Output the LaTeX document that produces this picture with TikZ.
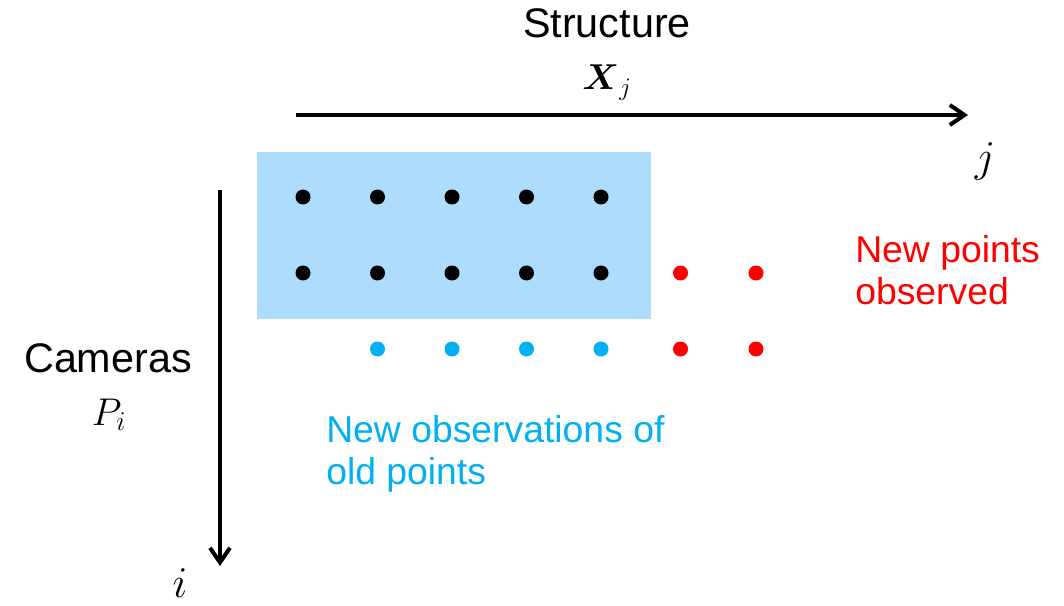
\documentclass[tikz,border=0pt]{standalone}
\usepackage{fix-cm}
\usepackage{fontspec}
\setmainfont{Liberation Sans}
\usepackage{amsmath, amssymb}
\usetikzlibrary{arrows.meta, positioning}
\definecolor{BoxBlue}{RGB}{173, 220, 253}
\definecolor{ObsBlue}{RGB}{0, 176, 240}
\definecolor{NewRed}{RGB}{255, 0, 0}

\begin{document}
\begin{tikzpicture}[x=0.75pt, y=-0.75pt, >={Straight Barb[length=11pt, width=15pt]},
    every node/.style={inner sep=0pt, font=\fontsize{31}{36}\selectfont},
    note/.style={anchor=base west, align=left, font=\fontsize{28}{31}\selectfont},
    idx/.style={anchor=base, font=\fontsize{33}{36}\selectfont},
    axis/.style={->, line width=3pt}]
        \useasboundingbox (0,0) rectangle (1064,606);
        % known block
        \fill[BoxBlue] (257,152) rectangle (651,319);
        \foreach \x in {0,...,4} {
            \foreach \y in {0,1} {
                \fill[black] (303+74.5*\x, 197+76*\y) circle (7.5);
            }
        }
        \foreach \x in {1,...,4} {
            \fill[ObsBlue] (303+74.5*\x, 349) circle (7.5);
        }
        \foreach \x in {5,6} {
            \foreach \y in {1,2} {
                \fill[NewRed] (303+75.5*\x, 197+76*\y) circle (7.5);
            }
        }
        % axes
        \coordinate (jstart) at (296,115);
        \coordinate (jend) at (968,115);
        \coordinate (istart) at (220,190);
        \coordinate (iend) at (220,566);
        \draw[axis] (jstart) -- (jend);
        \draw[axis] (istart) -- (iend);
        \node[anchor=base] (structure) at (607,38) {Structure};
        \node[anchor=base, font=\fontsize{27}{30}\selectfont] (xj) at (607,90) {$\boldsymbol{X}_j$};
        \node[idx] (jlabel) at (985,172) {$j$};
        \node[anchor=base] (cameras) at (108,372) {Cameras};
        \node[anchor=base, font=\fontsize{29}{30}\selectfont] (pi) at (109,425) {$P_i$};
        \node[idx] (ilabel) at (180,597) {$i$};
        \node[note, text=ObsBlue] (oldobs) at (326,484) {New observations of\\old points};
        \node[note, text=NewRed] (newpts) at (855,304) {New points\\observed};
    \end{tikzpicture}
\end{document}
